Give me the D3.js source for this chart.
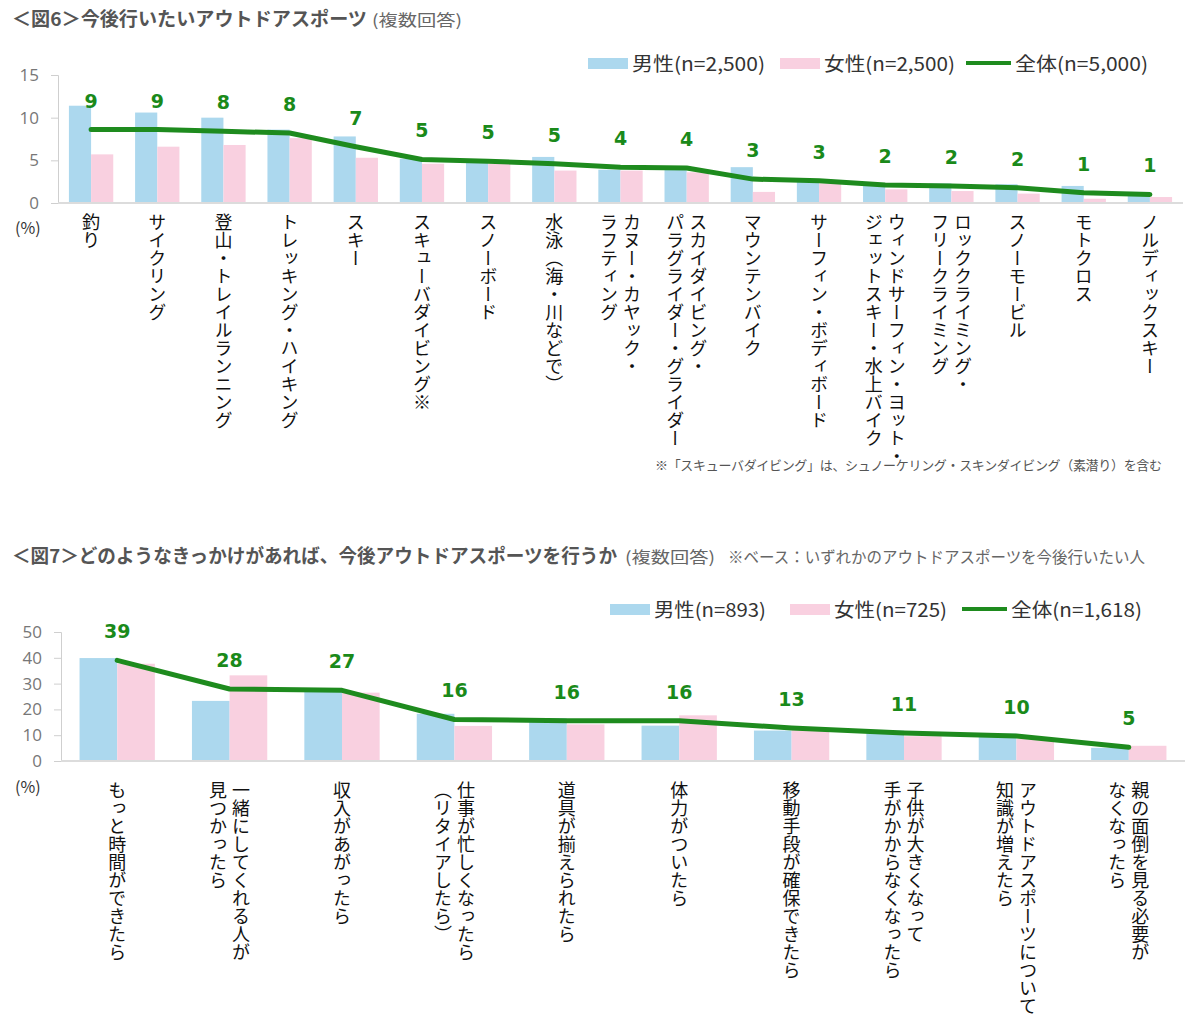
<!DOCTYPE html>
<html><head><meta charset="utf-8">
<script src="https://cdn.jsdelivr.net/npm/d3@7"></script>
<style>
body{margin:0;background:#fff;}
svg{display:block;font-family:"Noto Sans CJK JP","Noto Sans",sans-serif;}
</style></head>
<body>
<svg id="c" width="1200" height="1031"></svg>
<script>
// ---- Chart 6 data ----
const categories1 = ["釣り","サイクリング","登山・トレイルランニング","トレッキング・ハイキング","スキー","スキューバダイビング※","スノーボード","水泳（海・川などで）","カヌー・カヤック・\nラフティング","スカイダイビング・\nパラグライダー・グライダー","マウンテンバイク","サーフィン・ボディボード","ウィンドサーフィン・ヨット・\nジェットスキー・水上バイク","ロッククライミング・\nフリークライミング","スノーモービル","モトクロス","ノルディックスキー"];
const male1   = [11.4,10.6,10.0,8.6,7.8,5.2,4.9,5.4,3.9,4.0,4.2,2.8,2.2,2.3,2.2,2.0,1.3];
const female1 = [5.7,6.6,6.8,7.6,5.3,4.6,4.6,3.8,3.8,3.6,1.3,2.3,1.6,1.4,1.1,0.5,0.7];
const total1  = [8.6,8.6,8.4,8.2,6.6,5.1,4.9,4.6,4.2,4.1,2.8,2.6,2.1,2.0,1.8,1.2,1.0];
const yTicks1 = [0,5,10,15];
const legend1 = ["男性(n=2,500)","女性(n=2,500)","全体(n=5,000)"];

// ---- Chart 7 data ----
const categories2 = ["もっと時間ができたら","一緒にしてくれる人が\n見つかったら","収入があがったら","仕事が忙しくなったら\n（リタイアしたら）","道具が揃えられたら","体力がついたら","移動手段が確保できたら","子供が大きくなって\n手がかからなくなったら","アウトドアスポーツについて\n知識が増えたら","親の面倒を見る必要が\nなくなったら"];
const male2   = [39.9,23.3,27.6,18.3,16.6,13.7,11.8,11.8,10.6,5.1];
const female2 = [37.7,33.2,26.5,13.6,14.2,17.7,12.9,9.6,8.6,5.9];
const total2  = [39.0,27.9,27.4,16.1,15.6,15.6,12.8,10.9,9.7,5.3];
const yTicks2 = [0,10,20,30,40,50];
const legend2 = ["男性(n=893)","女性(n=725)","全体(n=1,618)"];

const BLUE="#acd8ee", PINK="#f9d0e0", GREEN="#1e8b1e", LGREEN="#1a8a1a";
const svg = d3.select("#c");

function title(y, main, mainLen, notes){
  svg.append("text").attr("x",12).attr("y",y).attr("fill","#555")
    .style("font-size","19px").style("font-weight","bold")
    .attr("textLength",mainLen).attr("lengthAdjust","spacingAndGlyphs").text(main);
  notes.forEach(n=>{
    svg.append("text").attr("x",n.x).attr("y",y).attr("fill","#666")
      .style("font-size",n.fs+"px").attr("textLength",n.len).attr("lengthAdjust","spacingAndGlyphs").text(n.t);
  });
}

function chart(o){
  const x = d3.scaleBand().domain(o.cats).range(o.xr).paddingInner(0.33).paddingOuter(0.165);
  const y = d3.scaleLinear().domain(o.ydom).range(o.yr);
  const g = svg.append("g");
  // y axis
  const ya = d3.axisLeft(y).tickValues(o.ticks).tickSize(7).tickPadding(12);
  const yg = g.append("g").attr("transform",`translate(${o.xr[0]},0)`).call(ya);
  yg.select(".domain").attr("stroke","#cfcfcf");
  yg.selectAll(".tick line").attr("stroke","#cfcfcf");
  yg.selectAll(".tick text").attr("fill","#777").style("font-size","17px").style("font-family","'Open Sans','Noto Sans',sans-serif");
  // bars
  const bw = x.bandwidth()/2;
  g.selectAll(".m").data(o.cats).join("rect").attr("x",d=>x(d)).attr("width",bw)
    .attr("y",(d,i)=>y(o.male[i])).attr("height",(d,i)=>y(0)-y(o.male[i])).attr("fill",BLUE);
  g.selectAll(".f").data(o.cats).join("rect").attr("x",d=>x(d)+bw).attr("width",bw)
    .attr("y",(d,i)=>y(o.female[i])).attr("height",(d,i)=>y(0)-y(o.female[i])).attr("fill",PINK);
  // x axis line
  const xa = d3.axisBottom(x).tickSize(0).tickFormat("");
  const xg = g.append("g").attr("transform",`translate(0,${y(0)})`).call(xa);
  xg.select(".domain").attr("stroke","#dcdcdc").attr("stroke-width",2).attr("d",`M${o.xr[0]},0H${o.xr[1]}`);
  // line
  const cx = d=>x(d)+x.bandwidth()/2;
  const line = d3.line().x((d,i)=>cx(o.cats[i])).y(d=>y(d));
  g.append("path").datum(o.total).attr("d",line).attr("fill","none").attr("stroke",GREEN).attr("stroke-width",5).attr("stroke-linejoin","round").attr("stroke-linecap","round");
  // data labels
  g.selectAll(".lbl").data(o.total).join("text").attr("x",(d,i)=>cx(o.cats[i])).attr("y",d=>y(d)-22)
    .attr("text-anchor","middle").attr("fill",LGREEN).style("font-family","'DejaVu Sans',sans-serif")
    .style("font-weight","bold").style("font-size","19px").text(d=>Math.round(d));
  // category labels (vertical)
  o.cats.forEach(c=>{
    const lines = c.split("\n");
    const n = lines.length;
    lines.forEach((ln,j)=>{
      const off = (n-1)/2*23 - j*23;
      g.append("text").attr("x",cx(c)+off).attr("y",o.labelY)
        .style("writing-mode","vertical-rl").style("font-size","18px").attr("fill","#111")
        .text(ln);
    });
  });
  // (%)
  g.append("text").attr("x",15).attr("y",o.pctY).style("font-size","16px").attr("fill","#333").text("(%)");
  // legend
  const L = o.leg;
  const lt = (xx,i)=>g.append("text").attr("x",xx).attr("y",L.y).style("font-size","19px").attr("fill","#333")
    .attr("textLength",L.w[i]).attr("lengthAdjust","spacingAndGlyphs").text(o.legend[i]);
  g.append("rect").attr("x",L.x[0]).attr("y",L.y-13).attr("width",40).attr("height",11).attr("fill",BLUE);
  lt(L.x[0]+44,0);
  g.append("rect").attr("x",L.x[1]).attr("y",L.y-13).attr("width",40).attr("height",11).attr("fill",PINK);
  lt(L.x[1]+44,1);
  g.append("line").attr("x1",L.x[2]).attr("x2",L.x[2]+45).attr("y1",L.y-8).attr("y2",L.y-8).attr("stroke",GREEN).attr("stroke-width",4);
  lt(L.x[2]+49,2);
}

title(26,"＜図6＞今後行いたいアウトドアスポーツ",355,[{x:372,t:"(複数回答)",fs:16,len:90}]);
chart({cats:categories1,male:male1,female:female1,total:total1,ticks:yTicks1,ydom:[0,15],
  xr:[58,1183],yr:[203,75],labelY:213,pctY:234,legend:legend1,leg:{x:[588,780,966],w:[133,131,133],y:71}});
svg.append("text").attr("x",655).attr("y",470).attr("fill","#555").style("font-size","13px")
  .style("letter-spacing","-0.32px")
  .text("※「スキューバダイビング」は、シュノーケリング・スキンダイビング（素潜り）を含む");

title(563,"＜図7＞どのようなきっかけがあれば、今後アウトドアスポーツを行うか",605,
  [{x:625,t:"(複数回答)",fs:16,len:90},{x:728,t:"※ベース：いずれかのアウトドアスポーツを今後行いたい人",fs:16,len:417}]);
chart({cats:categories2,male:male2,female:female2,total:total2,ticks:yTicks2,ydom:[0,50],
  xr:[61,1185],yr:[761,632],labelY:781,pctY:793,legend:legend2,leg:{x:[610,790,962],w:[112,113,131],y:617}});
</script>
</body></html>
